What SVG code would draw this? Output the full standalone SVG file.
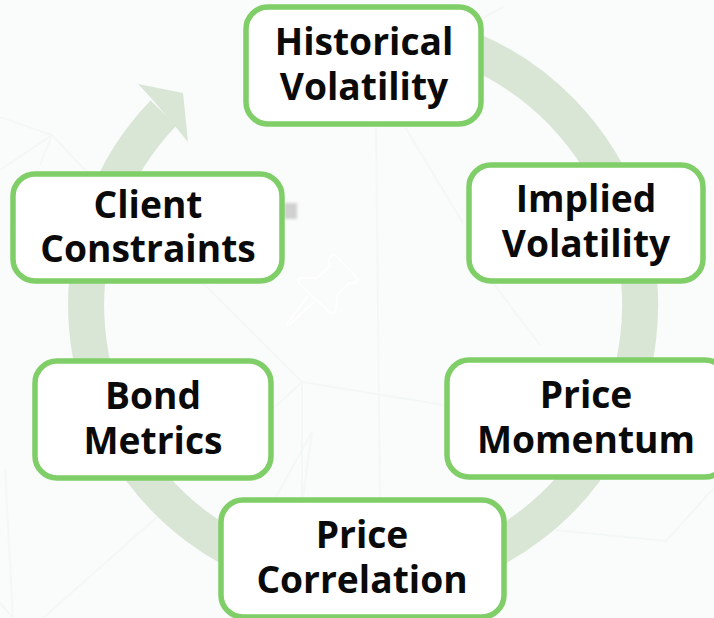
<svg xmlns="http://www.w3.org/2000/svg" width="714" height="618" viewBox="0 0 714 618">
<defs>
<style>
.ring{fill:none;stroke:#d9e5d5;stroke-width:36}
.head{fill:#d9e5d5}
.box{fill:#fff;stroke:#7fce67;stroke-width:5.5}
.t{font-family:"Open Sans","Noto Sans",sans-serif;font-weight:700;font-size:37.2px;fill:#0a0a0a;text-anchor:middle}
.bg{fill:none;stroke:#f3f8f6;stroke-width:2}
.pin{fill:none;stroke:#fff;stroke-width:1.8;stroke-linejoin:round}
</style>
<filter id="blur" x="-50%" y="-50%" width="200%" height="200%"><feGaussianBlur stdDeviation="1.4"/></filter>
</defs>
<rect width="714" height="618" fill="#fafbfb"/>
<g id="background">
<path class="bg" d="M376 125L380 500M405 127L463 223M493 283L540 345M0 117L52 135L85 170L207 287L302 382L444 405M52 135L40 165M52 135L0 170M302 382L275 407M302 382V497M312 432L276 497M312 432L303 497M5 470L13 618M0 603L13 618M157 517L43 618M555 530L666 541L714 488M483 18L503 7"/>
<rect x="284" y="203" width="13" height="16" fill="#d0d0d0" filter="url(#blur)"/>
<path class="pin" d="M298 282Q297 278 302 278L317 278L330 266L329 261Q329 255 334 255L336 256L357 278Q359 282 355 283L349 283L337 295L336 309Q335 314 330 313Z"/>
<path class="pin" d="M308 296L288 322L287 325L290 324L314 302"/>
</g>
<g id="connectors">
<path class="ring" d="M470 49.5A277 277 0 1 1 163.5 113"/>
<path class="head" d="M138 84L183 93L188 142L175 126L152 99Z"/>
</g>
<g id="node-historical"><rect class="box" x="246" y="7" width="235" height="117" rx="22"/><text class="t" x="364" y="55">Historical</text><text class="t" x="364" y="100">Volatility</text></g>
<g id="node-implied"><rect class="box" x="469" y="165" width="234" height="116" rx="22"/><text class="t" x="586" y="212">Implied</text><text class="t" x="586" y="257">Volatility</text></g>
<g id="node-momentum"><rect class="box" x="447" y="360" width="280" height="117" rx="22"/><text class="t" x="586" y="408">Price</text><text class="t" x="586" y="453">Momentum</text></g>
<g id="node-correlation"><rect class="box" x="221" y="500" width="283" height="117" rx="22"/><text class="t" x="362" y="548">Price</text><text class="t" x="362" y="593">Correlation</text></g>
<g id="node-bond"><rect class="box" x="35" y="361" width="236" height="117" rx="22"/><text class="t" x="153" y="409">Bond</text><text class="t" x="153" y="454">Metrics</text></g>
<g id="node-client"><rect class="box" x="13" y="174" width="269" height="107" rx="22"/><text class="t" x="148" y="218">Client</text><text class="t" x="148" y="262">Constraints</text></g>
</svg>
